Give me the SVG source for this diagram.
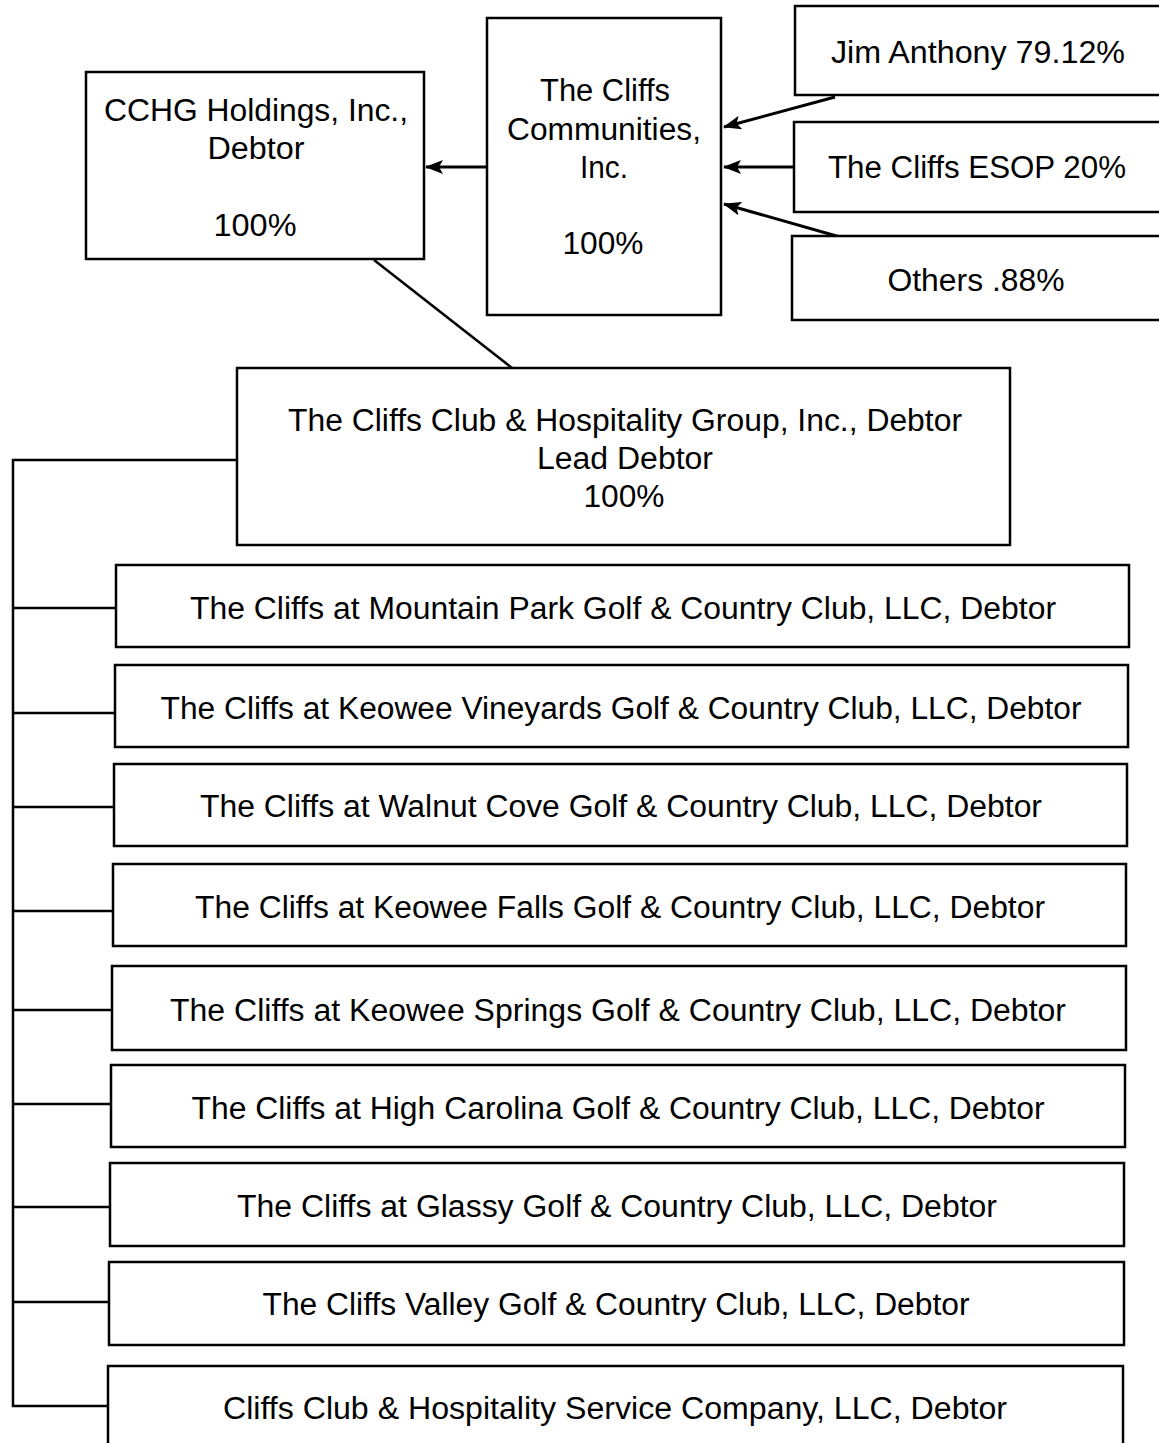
<svg xmlns="http://www.w3.org/2000/svg" width="1159" height="1443" viewBox="0 0 1159 1443">
<defs>
<marker id="arr" viewBox="0 0 18 14" refX="17" refY="7" markerWidth="18" markerHeight="14" markerUnits="userSpaceOnUse" orient="auto">
<path d="M0,0 L18,7 L0,14 L4,7 Z" fill="#000"/>
</marker>
</defs>
<style>
rect{fill:#fff;stroke:#000;stroke-width:2.5}
text{font-family:"Liberation Sans",Arial,Helvetica,sans-serif;font-size:31px;fill:#000;text-anchor:middle}
.c line,.c path{stroke:#000;stroke-width:2.5;fill:none}
.c line{stroke-width:3}
</style>
<rect width="1159" height="1443" fill="#fff" style="stroke:none"/>
<g class="c" id="connectors">
<line x1="487" y1="167" x2="426" y2="167" marker-end="url(#arr)"/>
<line x1="835" y1="97" x2="724" y2="127" marker-end="url(#arr)"/>
<line x1="794" y1="167" x2="724" y2="167" marker-end="url(#arr)"/>
<line x1="840" y1="237" x2="724" y2="204" marker-end="url(#arr)"/>
<line x1="374" y1="260" x2="512" y2="368" style="stroke-width:2.5"/>
<path d="M237,460 H13 V1406 H108"/>
<path d="M13,608 H116 M13,713 H115 M13,807 H114 M13,911 H113 M13,1010 H112 M13,1104 H111 M13,1207 H110 M13,1302 H109"/>
</g>
<g id="cchg"><rect x="86" y="72" width="338" height="187"/>
<text x="256" y="121" textLength="304" lengthAdjust="spacingAndGlyphs">CCHG Holdings, Inc.,</text>
<text x="256" y="159" textLength="97" lengthAdjust="spacingAndGlyphs">Debtor</text>
<text x="255" y="236" textLength="83" lengthAdjust="spacingAndGlyphs">100%</text></g>
<g id="communities"><rect x="487" y="18" width="234" height="297"/>
<text x="605" y="101" textLength="130" lengthAdjust="spacingAndGlyphs">The Cliffs</text>
<text x="604" y="140" textLength="194" lengthAdjust="spacingAndGlyphs">Communities,</text>
<text x="604" y="178" textLength="48" lengthAdjust="spacingAndGlyphs">Inc.</text>
<text x="603" y="254" textLength="81" lengthAdjust="spacingAndGlyphs">100%</text></g>
<g id="jim"><rect x="795" y="6" width="370" height="89"/>
<text x="978" y="63" textLength="294" lengthAdjust="spacingAndGlyphs">Jim Anthony 79.12%</text></g>
<g id="esop"><rect x="794" y="122" width="371" height="90"/>
<text x="977" y="178" textLength="298" lengthAdjust="spacingAndGlyphs">The Cliffs ESOP 20%</text></g>
<g id="others"><rect x="792" y="236" width="373" height="84"/>
<text x="976" y="291" textLength="177" lengthAdjust="spacingAndGlyphs">Others .88%</text></g>
<g id="lead"><rect x="237" y="368" width="773" height="177"/>
<text x="625" y="431" textLength="674" lengthAdjust="spacingAndGlyphs">The Cliffs Club &amp; Hospitality Group, Inc., Debtor</text>
<text x="625" y="469" textLength="176" lengthAdjust="spacingAndGlyphs">Lead Debtor</text>
<text x="624" y="507" textLength="81" lengthAdjust="spacingAndGlyphs">100%</text></g>
<g id="mountainpark"><rect x="116" y="565" width="1013" height="82"/>
<text x="623" y="619" textLength="866" lengthAdjust="spacingAndGlyphs">The Cliffs at Mountain Park Golf &amp; Country Club, LLC, Debtor</text></g>
<g id="vineyards"><rect x="115" y="665" width="1013" height="82"/>
<text x="621" y="719" textLength="921" lengthAdjust="spacingAndGlyphs">The Cliffs at Keowee Vineyards Golf &amp; Country Club, LLC, Debtor</text></g>
<g id="walnutcove"><rect x="114" y="764" width="1013" height="82"/>
<text x="621" y="817" textLength="842" lengthAdjust="spacingAndGlyphs">The Cliffs at Walnut Cove Golf &amp; Country Club, LLC, Debtor</text></g>
<g id="keoweefalls"><rect x="113" y="864" width="1013" height="82"/>
<text x="620" y="918" textLength="850" lengthAdjust="spacingAndGlyphs">The Cliffs at Keowee Falls Golf &amp; Country Club, LLC, Debtor</text></g>
<g id="keoweesprings"><rect x="112" y="966" width="1014" height="84"/>
<text x="618" y="1021" textLength="896" lengthAdjust="spacingAndGlyphs">The Cliffs at Keowee Springs Golf &amp; Country Club, LLC, Debtor</text></g>
<g id="highcarolina"><rect x="111" y="1065" width="1014" height="82"/>
<text x="618" y="1119" textLength="853" lengthAdjust="spacingAndGlyphs">The Cliffs at High Carolina Golf &amp; Country Club, LLC, Debtor</text></g>
<g id="glassy"><rect x="110" y="1163" width="1014" height="83"/>
<text x="617" y="1217" textLength="760" lengthAdjust="spacingAndGlyphs">The Cliffs at Glassy Golf &amp; Country Club, LLC, Debtor</text></g>
<g id="valley"><rect x="109" y="1262" width="1015" height="83"/>
<text x="616" y="1315" textLength="707" lengthAdjust="spacingAndGlyphs">The Cliffs Valley Golf &amp; Country Club, LLC, Debtor</text></g>
<g id="service"><rect x="108" y="1366" width="1015" height="90"/>
<text x="615" y="1419" textLength="784" lengthAdjust="spacingAndGlyphs">Cliffs Club &amp; Hospitality Service Company, LLC, Debtor</text></g>
</svg>
